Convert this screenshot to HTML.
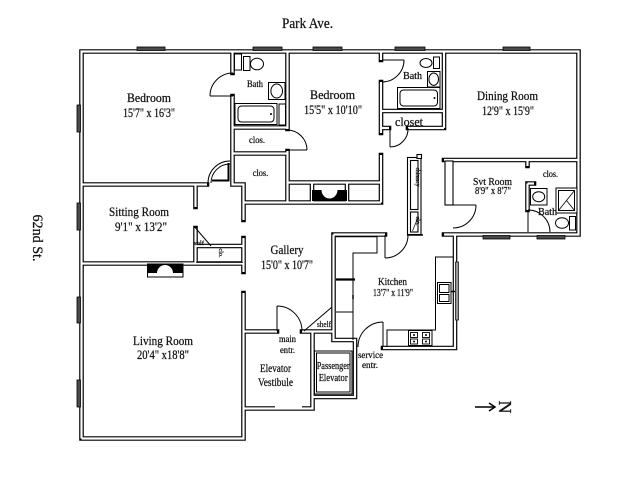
<!DOCTYPE html>
<html><head><meta charset="utf-8">
<style>
html,body{margin:0;padding:0;background:#fff;}
svg{display:block;}
text{font-family:"Liberation Serif","DejaVu Serif",serif;fill:#111;stroke:#111;stroke-width:0.25;}
</style></head><body>
<svg width="640" height="480" viewBox="0 0 640 480" xmlns="http://www.w3.org/2000/svg">
<rect width="640" height="480" fill="#fff"/>

<!-- walls: black then white core -->
<path fill="none" stroke="#000" stroke-width="4.6" stroke-linecap="square" stroke-linejoin="miter" d="M81.5,438.5V51.5H578.5V234.5H444 M81.5,438.5H243.5V293 M232.5,51.5V73 M232.5,96V184.5H243.5V220 M81.5,184.5H207 M232.5,127.5H287.5 M232.5,153.5H287.5 M287.5,51.5V129 M287.5,151V202.5 M243.5,202.5H381 M287.5,182.5H381 M312,182.5V202.5 M347,182.5V202.5 M381,51.5V60 M381,82V133 M381,155V202.5 M381,111H444 M381,128H389 M408,128H444 M444,51.5V128 M444,160H578.5 M81.5,263.5H243.5 M195.5,184.5V207 M195.5,228V263.5 M195.5,246H243.5 M243.5,238V272 M243.5,331.5H277 M302,331.5H333.5 M312.5,331.5V408.5H243.5 M333.5,234.5V340H355V397H312.5 M333.5,234.5H385 M455,234.5V348H383 M527.5,160V166 M527.5,183.5V210 M527.5,183.5H534"/>
<path fill="none" stroke="#fff" stroke-width="2.2" stroke-linecap="butt" stroke-linejoin="miter" d="M81.5,438.5V51.5H578.5V234.5H444 M81.5,438.5H243.5V293 M232.5,51.5V73 M232.5,96V184.5H243.5V220 M81.5,184.5H207 M232.5,127.5H287.5 M232.5,153.5H287.5 M287.5,51.5V129 M287.5,151V202.5 M243.5,202.5H381 M287.5,182.5H381 M312,182.5V202.5 M347,182.5V202.5 M381,51.5V60 M381,82V133 M381,155V202.5 M381,111H444 M381,128H389 M408,128H444 M444,51.5V128 M444,160H578.5 M81.5,263.5H243.5 M195.5,184.5V207 M195.5,228V263.5 M195.5,246H243.5 M243.5,238V272 M243.5,331.5H277 M302,331.5H333.5 M312.5,331.5V408.5H243.5 M333.5,234.5V340H355V397H312.5 M333.5,234.5H385 M455,234.5V348H383 M527.5,160V166 M527.5,183.5V210 M527.5,183.5H534"/>

<!-- windows -->
<g fill="#4a4a4a" stroke="#000" stroke-width="0.8">
<rect x="137" y="47" width="28" height="3.5"/>
<rect x="253" y="47" width="29" height="3.5"/>
<rect x="313" y="47" width="29" height="3.5"/>
<rect x="395" y="47" width="30" height="3.5"/>
<rect x="503" y="47" width="27" height="3.5"/>
<rect x="77" y="105" width="3.5" height="27"/>
<rect x="77" y="203" width="3.5" height="27"/>
<rect x="77" y="297" width="3.5" height="26"/>
<rect x="77" y="380" width="3.5" height="27"/>
<rect x="483" y="235.5" width="27" height="3.5"/>
<rect x="537" y="235.5" width="28" height="3.5"/>
</g>
<rect x="455.5" y="262" width="3" height="58" fill="#999" stroke="#000" stroke-width="0.7"/>
<!-- vestibule bottom opening -->
<rect x="275" y="406" width="27" height="2.6" fill="#fff"/>

<!-- doors -->
<g fill="none" stroke="#000" stroke-width="1">
<path d="M233,96H210 M210,96A23,23 0 0,1 233,73"/>
<path d="M287,150H307 M307,150A20,20 0 0,0 287,130"/>
<path d="M230,161A22,22 0 0,0 208,183 M230,164A19,19 0 0,0 211,183"/>
<path d="M382,60H404 M404,60A22,22 0 0,1 382,82"/>
<path d="M390,128V147 M390,147A18,18 0 0,0 408,128"/>
<path d="M453,205H476 M476,205A23,23 0 0,1 453,228"/>
<path d="M528,232V210 M528,210A22,22 0 0,1 550,232"/>
<path d="M385,235V258 M385,258A23,23 0 0,0 408,235"/>
<path d="M277,331V306 M277,306A25,25 0 0,1 302,331"/>
<path d="M383,347V322 M383,322A25,25 0 0,0 358,347"/>
<path d="M304,331L332,307"/>
<path d="M195.5,228L211,246"/>
</g>
<path d="M228.5,163V180.5H212" fill="none" stroke="#000" stroke-width="2"/>

<!-- bath 1 fixtures -->
<g fill="#fff" stroke="#000" stroke-width="1">
<rect x="234.5" y="54" width="7" height="16"/>
<rect x="243.5" y="56.5" width="6.5" height="14"/>
<ellipse cx="257" cy="64" rx="6.5" ry="5.8"/>
<rect x="268.5" y="82.5" width="16.5" height="17"/>
<ellipse cx="276.7" cy="91" rx="5.8" ry="7"/>
<rect x="235" y="103.5" width="42" height="21"/>
<rect x="238" y="106" width="36" height="16" rx="3.5"/>
<rect x="279" y="104" width="6.5" height="21"/>
</g>
<circle cx="271" cy="114" r="1" fill="#000"/>

<!-- bath 2 fixtures -->
<g fill="#fff" stroke="#000" stroke-width="1">
<ellipse cx="426" cy="63" rx="6" ry="4.5"/>
<rect x="433.5" y="57" width="6" height="11.5"/>
<rect x="427.5" y="71.5" width="12.5" height="15.5"/>
<ellipse cx="433.7" cy="79.2" rx="4.8" ry="6.2"/>
<rect x="397.5" y="87.5" width="42.5" height="21"/>
<rect x="400" y="90" width="37.5" height="16" rx="3.5"/>
</g>
<circle cx="434.5" cy="98" r="1" fill="#000"/>

<!-- svt bath fixtures -->
<g fill="#fff" stroke="#000" stroke-width="1">
<rect x="530.5" y="188.5" width="16.5" height="16.5"/>
<ellipse cx="538.7" cy="196.7" rx="6" ry="5"/>
<rect x="556" y="188" width="21" height="25"/>
<rect x="558.5" y="190.5" width="16" height="20"/>
<ellipse cx="562" cy="223" rx="6.5" ry="5.3"/>
<rect x="569.5" y="216.5" width="6" height="13.5"/>
</g>
<path d="M558.5,210.5L574.5,190.5 M566.5,200.5L574.5,210.5" stroke="#000" stroke-width="0.8" fill="none"/>

<!-- svt column & chimney column -->
<g fill="#fff" stroke="#000" stroke-width="1.1">
<rect x="445" y="161" width="8" height="44"/>
<rect x="407.5" y="157.5" width="13.5" height="77"/>
<rect x="410.5" y="160.5" width="7.5" height="49"/>
<rect x="410.5" y="212" width="7.5" height="20"/>
<rect x="417" y="154.5" width="4.5" height="4"/>
</g>
<path d="M407,235H423" stroke="#000" stroke-width="1.5"/>
<path d="M412.5,231L418.5,216" stroke="#000" stroke-width="0.7"/>

<!-- clo closet under sitting room shelf -->
<path d="M196,262.5H243" stroke="#000" stroke-width="0.8"/>

<!-- kitchen -->
<g fill="none" stroke="#000" stroke-width="1">
<path d="M336,236.8H377V253H353V340"/>
<path d="M336,312H353"/>
<path d="M453,257H435.5V330H387V346"/>
<rect x="408.5" y="330.5" width="23.5" height="15" fill="#fff"/>
<rect x="437.5" y="282.5" width="13.5" height="21" fill="#fff"/>
<rect x="439.5" y="284.5" width="9.5" height="8"/>
<rect x="439.5" y="294.5" width="9.5" height="7"/>
</g>
<path d="M336,279.5H355" stroke="#000" stroke-width="2.2"/>
<path d="M353,295V299" stroke="#000" stroke-width="1.5"/>
<path d="M451,291.5H455" stroke="#000" stroke-width="1.5"/>
<g fill="none" stroke="#000" stroke-width="0.9">
<rect x="410.5" y="332.5" width="7" height="5"/>
<rect x="422.5" y="332.5" width="7" height="5"/>
<rect x="410.5" y="339" width="7" height="5"/>
<rect x="422.5" y="339" width="7" height="5"/>
</g>
<g fill="#000">
<circle cx="414" cy="335" r="1"/><circle cx="426" cy="335" r="1"/>
<circle cx="414" cy="341.5" r="1"/><circle cx="426" cy="341.5" r="1"/>
</g>

<!-- elevator -->
<g fill="none" stroke="#000" stroke-width="1">
<rect x="314.5" y="351" width="37.5" height="43"/>
<rect x="316.5" y="353" width="33.5" height="39"/>
</g>

<!-- fireplaces -->
<rect x="312" y="190" width="35" height="11" fill="#000"/>
<path d="M321.5,190A8,8.5 0 0,0 337.5,190Z" fill="#fff"/>
<rect x="147.5" y="264" width="35.5" height="13" fill="#fff" stroke="#000" stroke-width="1"/>
<rect x="147.5" y="264" width="35.5" height="9" fill="#000"/>
<path d="M157,273A8,8 0 0,1 173,273Z" fill="#fff"/>

<!-- labels -->
<g text-anchor="middle">
<text x="307.5" y="28" font-size="15" textLength="51" lengthAdjust="spacingAndGlyphs">Park Ave.</text>

<text x="149" y="102" font-size="13" textLength="44" lengthAdjust="spacingAndGlyphs">Bedroom</text>
<text x="149" y="117" font-size="13" textLength="52" lengthAdjust="spacingAndGlyphs">15'7" x 16'3"</text>

<text x="332.5" y="99" font-size="13" textLength="45" lengthAdjust="spacingAndGlyphs">Bedroom</text>
<text x="333" y="114" font-size="13" textLength="58" lengthAdjust="spacingAndGlyphs">15'5" x 10'10"</text>

<text x="507.5" y="100" font-size="13" textLength="61" lengthAdjust="spacingAndGlyphs">Dining Room</text>
<text x="508" y="115" font-size="13" textLength="52" lengthAdjust="spacingAndGlyphs">12'9" x 15'9"</text>

<text x="255" y="87" font-size="9.5" textLength="16" lengthAdjust="spacingAndGlyphs">Bath</text>
<text x="412.5" y="79" font-size="10" textLength="19" lengthAdjust="spacingAndGlyphs">Bath</text>
<text x="409" y="126" font-size="13" textLength="28" lengthAdjust="spacingAndGlyphs">closet</text>
<text x="257" y="143" font-size="9" textLength="16" lengthAdjust="spacingAndGlyphs">clos.</text>
<text x="260.5" y="176" font-size="9" textLength="15.5" lengthAdjust="spacingAndGlyphs">clos.</text>

<text x="139" y="216" font-size="13" textLength="60" lengthAdjust="spacingAndGlyphs">Sitting Room</text>
<text x="141" y="231" font-size="13" textLength="52" lengthAdjust="spacingAndGlyphs">9'1" x 13'2"</text>

<text x="287" y="254" font-size="13" textLength="33" lengthAdjust="spacingAndGlyphs">Gallery</text>
<text x="287" y="269" font-size="13" textLength="52" lengthAdjust="spacingAndGlyphs">15'0" x 10'7"</text>

<text x="163" y="345" font-size="13" textLength="60" lengthAdjust="spacingAndGlyphs">Living Room</text>
<text x="163" y="359" font-size="13" textLength="52" lengthAdjust="spacingAndGlyphs">20'4" x18'8"</text>

<text x="392.5" y="285" font-size="10.5" textLength="29" lengthAdjust="spacingAndGlyphs">Kitchen</text>
<text x="393" y="296" font-size="10.5" textLength="40" lengthAdjust="spacingAndGlyphs">13'7" x 11'9"</text>

<text x="492.5" y="185" font-size="11" textLength="39" lengthAdjust="spacingAndGlyphs">Svt Room</text>
<text x="493" y="194" font-size="10.5" textLength="36" lengthAdjust="spacingAndGlyphs">8'9" x 8'7"</text>
<text x="550.5" y="177" font-size="9" textLength="15" lengthAdjust="spacingAndGlyphs">clos.</text>
<text x="547.5" y="215" font-size="10" textLength="19" lengthAdjust="spacingAndGlyphs">Bath</text>

<text x="287.5" y="342" font-size="9" textLength="17" lengthAdjust="spacingAndGlyphs">main</text>
<text x="287.5" y="353" font-size="9" textLength="15" lengthAdjust="spacingAndGlyphs">entr.</text>
<text x="275.5" y="372" font-size="11.5" textLength="31" lengthAdjust="spacingAndGlyphs">Elevator</text>
<text x="275.5" y="386" font-size="11.5" textLength="35" lengthAdjust="spacingAndGlyphs">Vestibule</text>
<text x="333.2" y="369" font-size="10.5" textLength="33" lengthAdjust="spacingAndGlyphs">Passenger</text>
<text x="333.2" y="381" font-size="10.5" textLength="29" lengthAdjust="spacingAndGlyphs">Elevator</text>
<text x="370.5" y="358" font-size="9.5" textLength="25" lengthAdjust="spacingAndGlyphs">service</text>
<text x="370" y="368" font-size="9.5" textLength="16" lengthAdjust="spacingAndGlyphs">entr.</text>
<text x="324" y="327" font-size="8.5" textLength="14" lengthAdjust="spacingAndGlyphs">shelf</text>
<text x="199" y="245" font-size="6" textLength="10" lengthAdjust="spacingAndGlyphs">shlf</text>

<text transform="translate(416,177) rotate(90)" font-size="6" textLength="19" lengthAdjust="spacingAndGlyphs">chimney</text>
<text transform="translate(416,221) rotate(90)" font-size="6" textLength="9" lengthAdjust="spacingAndGlyphs">clo.</text>
<text transform="translate(219,253) rotate(90)" font-size="6" textLength="9" lengthAdjust="spacingAndGlyphs">clo.</text>

<text transform="translate(33,238) rotate(90)" font-size="15" textLength="47" lengthAdjust="spacingAndGlyphs">62nd St.</text>
<text transform="translate(499,407) rotate(90)" font-size="18">N</text>
</g>

<!-- north arrow -->
<path d="M475,407H494" stroke="#000" stroke-width="1.5" fill="none"/>
<path d="M489,403L495,407L489,411" stroke="#000" stroke-width="1.5" fill="none"/>
</svg>
</body></html>
